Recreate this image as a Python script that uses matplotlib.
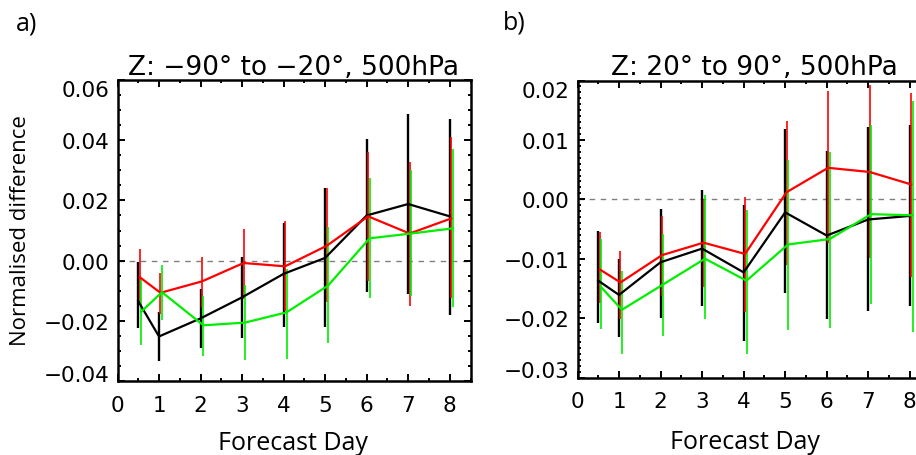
import matplotlib
matplotlib.use("Agg")
import matplotlib.pyplot as plt
from matplotlib.ticker import MultipleLocator, FixedLocator, FuncFormatter

# ---------------- data ----------------
days = [0.5, 1, 2, 3, 4, 5, 6, 7, 8]

# Panel a: Z -90 to -20, 500hPa
a_black = [-0.0135, -0.0252, -0.0192, -0.0122, -0.0044, 0.0009, 0.0150, 0.0188, 0.0147]
a_black_hi = [-0.0004, -0.0171, -0.0096, 0.0012, 0.0126, 0.0242, 0.0404, 0.0488, 0.0471]
a_black_lo = [-0.0223, -0.0334, -0.0290, -0.0256, -0.0219, -0.0222, -0.0105, -0.0110, -0.0180]
a_red = [-0.0055, -0.0107, -0.0069, -0.0008, -0.0019, 0.0049, 0.0147, 0.0090, 0.0140]
a_red_hi = [0.0040, -0.0040, 0.0012, 0.0104, 0.0132, 0.0240, 0.0362, 0.0326, 0.0410]
a_red_lo = [-0.0138, -0.0178, -0.0159, -0.0128, -0.0167, -0.0139, -0.0069, -0.0152, -0.0124]
a_green = [-0.0170, -0.0105, -0.0215, -0.0206, -0.0172, -0.0083, 0.0074, 0.0090, 0.0107]
a_green_hi = [-0.0066, -0.0016, -0.0116, -0.0080, -0.0027, 0.0113, 0.0275, 0.0300, 0.0370]
a_green_lo = [-0.0279, -0.0197, -0.0318, -0.0331, -0.0327, -0.0275, -0.0125, -0.0118, -0.0155]

# Panel b: Z 20 to 90, 500hPa
b_black = [-0.0137, -0.0161, -0.0106, -0.0083, -0.0123, -0.0022, -0.0061, -0.0034, -0.0028]
b_black_hi = [-0.0053, -0.0101, -0.0017, 0.0015, -0.0010, 0.0118, 0.0081, 0.0121, 0.0125]
b_black_lo = [-0.0208, -0.0231, -0.0200, -0.0180, -0.0238, -0.0158, -0.0202, -0.0188, -0.0179]
b_red = [-0.0118, -0.0140, -0.0094, -0.0073, -0.0092, 0.0012, 0.0053, 0.0046, 0.0025]
b_red_hi = [-0.0055, -0.0087, -0.0028, 0.0001, 0.0004, 0.0132, 0.0182, 0.0192, 0.0179]
b_red_lo = [-0.0174, -0.0202, -0.0163, -0.0147, -0.0189, -0.0111, -0.0074, -0.0098, -0.0130]
b_green = [-0.0148, -0.0186, -0.0143, -0.0100, -0.0137, -0.0076, -0.0067, -0.0025, -0.0027]
b_green_hi = [-0.0067, -0.0120, -0.0059, 0.0007, -0.0018, 0.0066, 0.0080, 0.0125, 0.0166]
b_green_lo = [-0.0218, -0.0260, -0.0230, -0.0202, -0.0260, -0.0220, -0.0217, -0.0176, -0.0223]

titles = ["Z: \u221290\u00b0 to \u221220\u00b0, 500hPa", "Z: 20\u00b0 to 90\u00b0, 500hPa"]
panel_labels = ["a)", "b)"]
a_yticks = [-0.04, -0.02, 0.00, 0.02, 0.04, 0.06]
b_yticks = [-0.03, -0.02, -0.01, 0.00, 0.01, 0.02]
xticks = [0, 1, 2, 3, 4, 5, 6, 7, 8]
xlabel = "Forecast Day"
ylabel = "Normalised difference"

# ---------------- style ----------------
W, H = 916, 456
fig = plt.figure(figsize=(W / 100, H / 100), dpi=100)

TICKFONT = "DejaVu Sans"
LABFONT = "Open Sans"
BLACK, RED, GREEN = "#000000", "#ff0000", "#00ee00"


def px_axes(l, t, r, b):
    return [l / W, 1 - b / H, (r - l) / W, (b - t) / H]


def fmt(v, pos):
    s = "%.2f" % abs(v)
    return ("\u2212" + s) if v < -1e-9 else s


def draw_panel(ax, series, yticks, yminor, title):
    ax.axhline(0, color="#808080", lw=1.0, ls=(0, (4, 4)), zorder=1)
    offsets = [0.0, 0.035, 0.07]
    widths = [1.7, 1.2, 1.2]
    for (mean, lo, hi, col), off, ew in zip(series, offsets, widths):
        xs = [d + off for d in days]
        ax.vlines(xs, lo, hi, color=col, lw=ew, zorder=2)
        ax.plot(xs, mean, color=col, lw=1.6, zorder=3)
    ax.set_xlim(0, 8.5)
    ax.set_ylim(yticks[0], yticks[-1])
    ax.xaxis.set_major_locator(FixedLocator(xticks))
    ax.xaxis.set_minor_locator(MultipleLocator(0.5))
    ax.yaxis.set_major_locator(FixedLocator(yticks))
    ax.yaxis.set_minor_locator(MultipleLocator(yminor))
    ax.yaxis.set_major_formatter(FuncFormatter(fmt))
    ax.tick_params(which="both", direction="in", top=True, right=True,
                   width=1.4, color="black")
    ax.tick_params(which="major", length=5.0)
    ax.tick_params(which="minor", length=2.5)
    ax.tick_params(axis="x", which="major", pad=10, labelsize=15.5)
    ax.tick_params(axis="y", which="major", pad=5.5, labelsize=15.5)
    for lab in ax.get_xticklabels() + ax.get_yticklabels():
        lab.set_fontfamily(TICKFONT)
    for s in ax.spines.values():
        s.set_linewidth(1.8)
    ticks = ax.yaxis.get_major_ticks()
    ticks[0].label1.set_verticalalignment("baseline")
    ticks[-1].label1.set_verticalalignment("top")
    ax.set_title(title, fontsize=19, family=TICKFONT, pad=4.5)


ax_a = fig.add_axes(px_axes(117.5, 81, 470.5, 382))
draw_panel(ax_a,
           [(a_black, a_black_lo, a_black_hi, BLACK),
            (a_red, a_red_lo, a_red_hi, RED),
            (a_green, a_green_lo, a_green_hi, GREEN)],
           a_yticks, 0.005, titles[0])

ax_b = fig.add_axes(px_axes(577.5, 81.5, 930.5, 378.5))
draw_panel(ax_b,
           [(b_black, b_black_lo, b_black_hi, BLACK),
            (b_red, b_red_lo, b_red_hi, RED),
            (b_green, b_green_lo, b_green_hi, GREEN)],
           b_yticks, 0.001, titles[1])

# figure-level labels
fig.text(16 / W, 1 - 24 / H, panel_labels[0], fontsize=18, family=LABFONT,
         ha="left", va="center")
fig.text(503 / W, 1 - 23 / H, panel_labels[1], fontsize=18, family=LABFONT,
         ha="left", va="center")
fig.text(292.5 / W, 1 - 450 / H, xlabel, fontsize=18, family=LABFONT,
         ha="center", va="baseline")
fig.text(745 / W, 1 - 449.5 / H, xlabel, fontsize=18, family=LABFONT,
         ha="center", va="baseline")
fig.text(21 / W, 1 - 231 / H, ylabel, fontsize=16, family=LABFONT,
         ha="center", va="center", rotation=90)

fig.savefig("out.png", dpi=100)
